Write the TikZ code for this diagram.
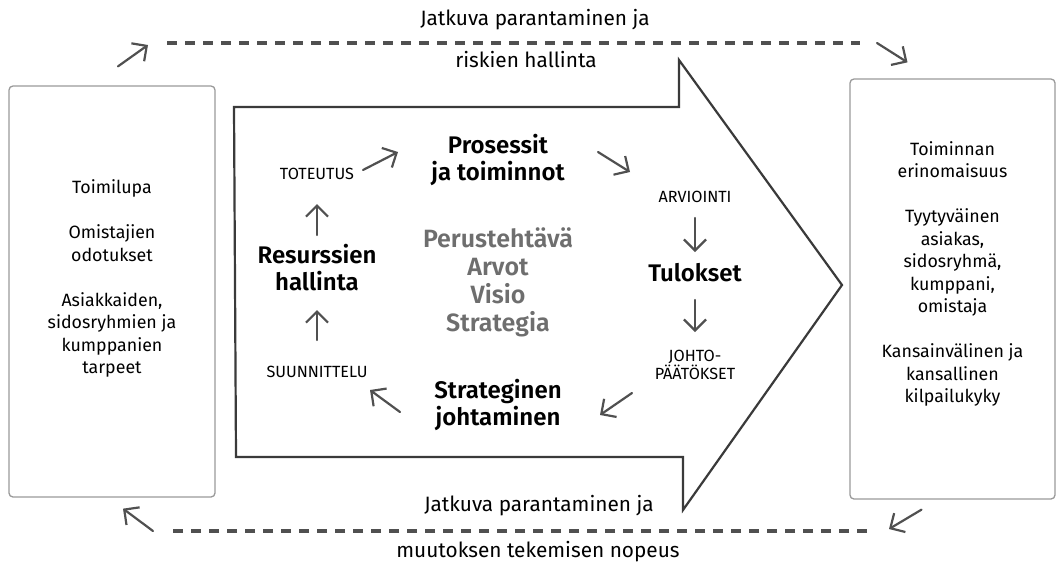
\documentclass[tikz,border=0pt]{standalone}
\usepackage{fontspec}
\setmainfont{Fira Sans}[BoldFont={* SemiBold}]
\usepackage{tikz}
\usetikzlibrary{positioning,calc,arrows.meta}

\definecolor{darkline}{HTML}{3A3A3A}
\definecolor{midline}{HTML}{505050}
\definecolor{boxline}{HTML}{9A9A9A}
\definecolor{coregray}{HTML}{6E6E6E}

\tikzstyle{sidebox} = [draw=boxline, line width=1.3pt, rectangle,
    rounded corners=4pt, inner sep=0pt]
\tikzstyle{sidetext} = [align=center, font=\fontsize{17.8}{22.5}\selectfont]
\tikzstyle{outertext} = [align=center, font=\fontsize{20.8}{22.5}\selectfont]
\tikzstyle{bigtext} = [align=center, font=\fontsize{24}{27}\selectfont\bfseries]
\tikzstyle{smalltext} = [align=center, font=\fontsize{16.2}{16}\selectfont]
\tikzstyle{coretext} = [align=center, text=coregray,
    font=\fontsize{25}{28}\selectfont\bfseries]
\tikzstyle{looparrow} = [draw=midline, line width=2.2pt, line cap=round,
    -{Straight Barb[length=11pt,width=22pt,line width=2.2pt]}]
\tikzstyle{flowline} = [draw=midline, line width=3.4pt, dash pattern=on 10pt off 8pt]

\begin{document}
\begin{tikzpicture}[x=1pt,y=-1pt]
\useasboundingbox (0,0) rectangle (1061,566);

% side boxes
\node [sidebox, minimum width=206pt, minimum height=411pt] (left) at (112,291.5) {};
\node [sidetext] (lefttext) at ([yshift=13pt]left.center) {%
    Toimilupa\\[22.5pt]
    Omistajien\\odotukset\\[22.5pt]
    Asiakkaiden,\\sidosryhmien ja\\kumppanien\\tarpeet};

\node [sidebox, minimum width=205pt, minimum height=420pt] (right) at (952.5,289) {};
\node [sidetext] (righttext) at ([yshift=15pt]right.center) {%
    Toiminnan\\erinomaisuus\\[22.5pt]
    Tyytyv\"ainen\\asiakas,\\sidosryhm\"a,\\kumppani,\\omistaja\\[22.5pt]
    Kansainv\"alinen ja\\kansallinen\\kilpailukyky};

% big arrow
\draw [darkline, line width=2.2pt, line join=miter]
    (234,107) -- (679,107) -- (679,60) -- (842,285) -- (683,510)
    -- (683,457) -- (236,457) -- cycle;

% loop inside the arrow
\node [bigtext] (process) at (498,160) {Prosessit\\ja toiminnot};
\node [smalltext] (doing) at (317,174) {TOTEUTUS};
\node [bigtext] (resources) at (317,268) {Resurssien\\hallinta};
\node [smalltext] (planning) at (317,372) {SUUNNITTELU};
\node [bigtext] (strategic) at (498,405) {Strateginen\\johtaminen};
\node [smalltext] (review) at (695,197) {ARVIOINTI};
\node [bigtext] (results) at (695,273) {Tulokset};
\node [smalltext] (decisions) at (695,365) {JOHTO-\\P\"A\"AT\"OKSET};
\node [coretext] (core) at (498,282) {Perusteht\"av\"a\\Arvot\\Visio\\Strategia};

\draw [looparrow] ($(doing)+(46,-4)$) -- ($(process)+(-100,-8)$);
\draw [looparrow] ($(process)+(100,-8)$) -- ($(review)+(-65,-25)$);
\draw [looparrow, shorten <=21pt, shorten >=21pt] (review.center) -- (results.center);
\draw [looparrow, shorten <=27pt, shorten >=33pt] (results.center) -- (decisions.center);
\draw [looparrow] ($(decisions)+(-63,28)$) -- ($(strategic)+(102,10)$);
\draw [looparrow] ($(strategic)+(-98,7)$) -- ($(planning)+(53,18)$);
\draw [looparrow, shorten <=32pt, shorten >=42pt] (planning.center) -- (resources.center);
\draw [looparrow, shorten <=33pt, shorten >=30pt] (resources.center) -- (doing.center);

% improvement loop round the whole
\coordinate (topstart) at (167,43);
\coordinate (topend) at (860,43);
\coordinate (botstart) at (867,531);
\coordinate (botend) at (170,531);

\draw [flowline] (topstart) -- (topend);
\draw [flowline] (botstart) -- (botend);

\node [outertext] (toptext) at (535,20) {Jatkuva parantaminen ja};
\node [outertext] (toptext2) at (526,60) {riskien hallinta};
\node [outertext] (bottext) at (539,506) {Jatkuva parantaminen ja};
\node [outertext] (bottext2) at (538,552) {muutoksen tekemisen nopeus};

\draw [looparrow] ($(left.north)+(6,-19)$) -- ($(topstart)+(-19,2)$);
\draw [looparrow] ($(topend)+(17,0)$) -- ($(right.north)+(-45,-16)$);
\draw [looparrow] ($(right.south)+(-31,10)$) -- ($(botstart)+(22,-2)$);
\draw [looparrow] ($(botend)+(-17,0)$) -- ($(left.south)+(11,11)$);

\end{tikzpicture}
\end{document}
